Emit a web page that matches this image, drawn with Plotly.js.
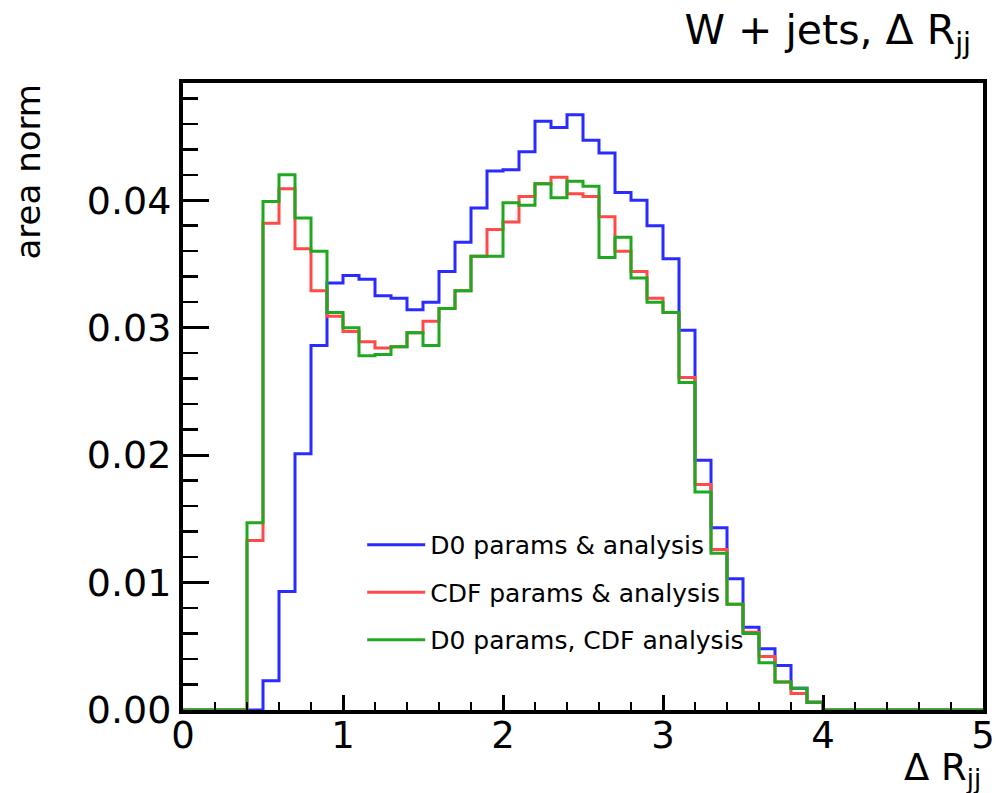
<!DOCTYPE html>
<html>
<head>
<meta charset="utf-8">
<script src="https://cdn.plot.ly/plotly-3.0.1.min.js"></script>
<style>html,body{margin:0;padding:0;background:#fff;}#plot{width:996px;height:793px;}</style>
</head>
<body>
<div id="plot"></div>
<script>
// Bin lower edges of Delta R_jj (width 0.1)
const binLow = [0.0,0.1,0.2,0.3,0.4,0.5,0.6,0.7,0.8,0.9,
                1.0,1.1,1.2,1.3,1.4,1.5,1.6,1.7,1.8,1.9,
                2.0,2.1,2.2,2.3,2.4,2.5,2.6,2.7,2.8,2.9,
                3.0,3.1,3.2,3.3,3.4,3.5,3.6,3.7,3.8,3.9,
                4.0,4.1,4.2,4.3,4.4,4.5,4.6,4.7,4.8,4.9];
const binWidth = 0.1;

const seriesNames = ["D0 params & analysis", "CDF params & analysis", "D0 params, CDF analysis"];

const d0Values = [0,0,0,0,0,0.0023,0.0093,0.0201,0.0286,0.0335,
                  0.0341,0.0338,0.0325,0.0323,0.0314,0.0320,0.0344,0.0367,0.0394,0.0423,
                  0.0424,0.0438,0.0462,0.0457,0.0467,0.0447,0.0437,0.0406,0.0400,0.0380,
                  0.0354,0.0298,0.0196,0.0143,0.0103,0.0065,0.0048,0.0035,0.0017,0.0006,
                  0,0,0,0,0,0,0,0,0,0];

const cdfValues = [0,0,0,0,0.0133,0.0382,0.0409,0.0362,0.0329,0.0309,
                   0.0297,0.0289,0.0284,0.0285,0.0296,0.0305,0.0315,0.0329,0.0356,0.0377,
                   0.0383,0.0403,0.0413,0.0418,0.0405,0.0403,0.0387,0.0360,0.0344,0.0323,
                   0.0312,0.0261,0.0177,0.0126,0.0083,0.0061,0.0042,0.0022,0.0013,0.0006,
                   0,0,0,0,0,0,0,0,0,0];

const mixValues = [0,0,0,0,0.0147,0.0399,0.0420,0.0386,0.0360,0.0312,
                   0.0300,0.0278,0.0279,0.0285,0.0296,0.0286,0.0315,0.0329,0.0356,0.0356,
                   0.0398,0.0396,0.0413,0.0402,0.0415,0.0411,0.0355,0.0371,0.0339,0.0320,
                   0.0312,0.0257,0.0171,0.0123,0.0083,0.0060,0.0037,0.0022,0.0017,0.0006,
                   0,0,0,0,0,0,0,0,0,0];

const colors = ["#2b2bff", "#ff4a4a", "#21a821"];

function stepTrace(vals, name, color, group) {
  const xs = binLow.concat([binLow[binLow.length-1] + binWidth]);
  const ys = vals.concat([vals[vals.length-1]]);
  return {
    x: xs, y: ys, type: 'scatter', mode: 'lines',
    line: {shape: 'hv', color: color, width: 3},
    name: name, legendgroup: group
  };
}

const traces = [
  stepTrace(d0Values, seriesNames[0], colors[0], 'a'),
  stepTrace(cdfValues, seriesNames[1], colors[1], 'b'),
  stepTrace(mixValues, seriesNames[2], colors[2], 'c')
];

const font = "DejaVu Sans, Liberation Sans, Arial, sans-serif";

const layout = {
  width: 996, height: 793,
  margin: {l: 183, r: 13, t: 83, b: 83},
  paper_bgcolor: '#ffffff', plot_bgcolor: '#ffffff',
  font: {family: font, color: '#000', size: 24},
  title: {
    text: "W + jets, Δ R<sub>jj</sub>",
    font: {family: font, size: 41, color: '#000'},
    xref: 'container', x: 0.975, xanchor: 'right',
    yref: 'container', y: 0.962, yanchor: 'middle'
  },
  xaxis: {
    range: [0, 5], dtick: 1, tick0: 0,
    showgrid: false, zeroline: false,
    showline: true, linecolor: '#000', linewidth: 4, mirror: true,
    ticks: 'inside', ticklen: 15, tickwidth: 3, tickcolor: '#000',
    ticklabelstandoff: -10,
    minor: {dtick: 0.2, ticks: 'inside', ticklen: 8, tickwidth: 2.5, tickcolor: '#000', showgrid: false},
    tickfont: {family: font, size: 37, color: '#000'}
  },
  yaxis: {
    range: [0, 0.0492], dtick: 0.01, tick0: 0, tickformat: '.2f',
    showgrid: false, zeroline: false,
    showline: true, linecolor: '#000', linewidth: 4, mirror: true,
    ticks: 'inside', ticklen: 26, tickwidth: 3, tickcolor: '#000',
    minor: {dtick: 0.002, ticks: 'inside', ticklen: 15, tickwidth: 2.5, tickcolor: '#000', showgrid: false},
    tickfont: {family: font, size: 38, color: '#000'}
  },
  showlegend: true,
  legend: {
    x: 0.224, y: 0.30, xanchor: 'left', yanchor: 'top',
    bgcolor: 'rgba(0,0,0,0)', borderwidth: 0,
    font: {family: font, size: 25, color: '#000'},
    tracegroupgap: 12, traceorder: 'grouped', itemwidth: 58
  },
  annotations: [
    {
      text: "Δ R<sub>jj</sub>", xref: 'paper', yref: 'paper',
      x: 1.0, y: -0.095, xanchor: 'right', yanchor: 'middle',
      showarrow: false, font: {family: font, size: 37, color: '#000'}
    },
    {
      text: "area norm", xref: 'paper', yref: 'paper',
      x: -0.195, y: 1.0, xanchor: 'center', yanchor: 'top',
      textangle: -90, showarrow: false,
      font: {family: font, size: 34, color: '#000'}
    }
  ]
};

Plotly.newPlot('plot', traces, layout, {staticPlot: true, displayModeBar: false});
</script>
</body>
</html>
